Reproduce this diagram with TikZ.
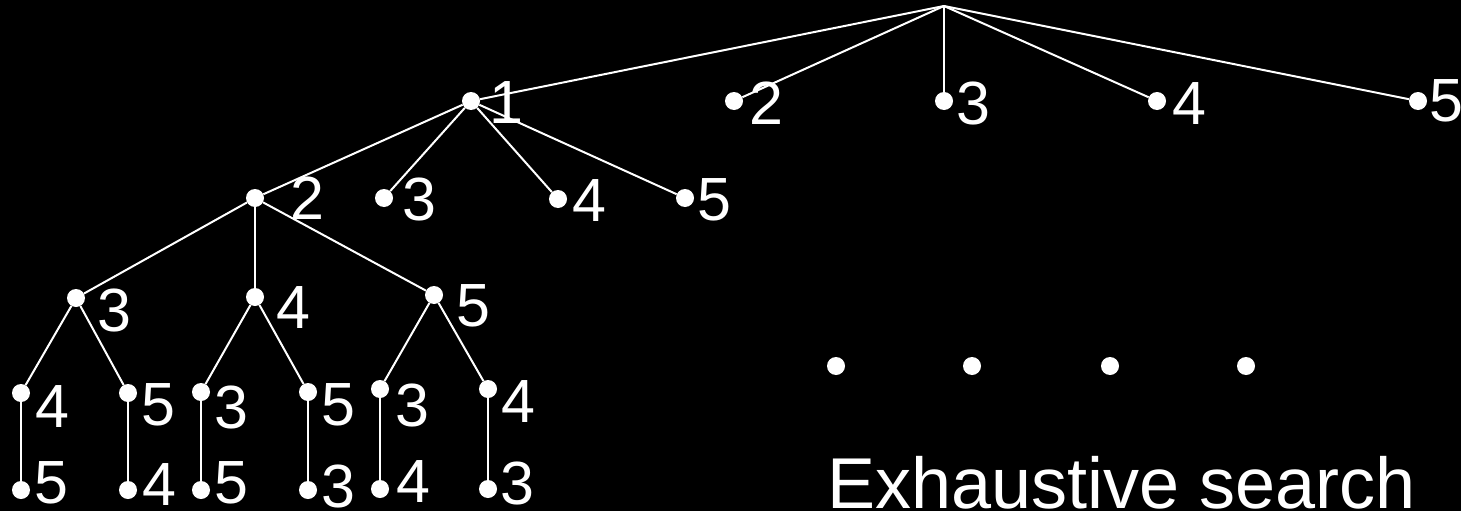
\documentclass[tikz,border=0pt]{standalone}
\usepackage{fontspec}
\setmainfont{Liberation Sans}
\begin{document}
\begin{tikzpicture}[x=1pt,y=-1pt,
  dot/.style={circle,fill=white,draw=none,inner sep=0pt,minimum size=18pt},
  lab/.style={anchor=west,inner sep=0pt,text=white,font=\fontsize{61}{70}\selectfont},
  edge/.style={draw=white,line width=2pt}]
\fill[black] (0,0) rectangle (1461,511);
\useasboundingbox (0,0) rectangle (1461,511);
% root
\coordinate (R) at (944,6);
% level 1
\node[dot] (a1) at (471,101) {};
\node[dot] (a2) at (734,101) {};
\node[dot] (a3) at (944,101) {};
\node[dot] (a4) at (1157,101) {};
\node[dot] (a5) at (1418,101) {};
% level 2
\node[dot] (b2) at (255,198) {};
\node[dot] (b3) at (384,198) {};
\node[dot] (b4) at (558,199) {};
\node[dot] (b5) at (685,198) {};
% level 3
\node[dot] (c3) at (76,298) {};
\node[dot] (c4) at (255,297) {};
\node[dot] (c5) at (434,295) {};
% level 4
\node[dot] (d1) at (21,393) {};
\node[dot] (d2) at (128,393) {};
\node[dot] (d3) at (201,392) {};
\node[dot] (d4) at (308,392) {};
\node[dot] (d5) at (380,389) {};
\node[dot] (d6) at (488,389) {};
% level 5
\node[dot] (e1) at (21,490) {};
\node[dot] (e2) at (128,490) {};
\node[dot] (e3) at (201,490) {};
\node[dot] (e4) at (308,490) {};
\node[dot] (e5) at (380,489) {};
\node[dot] (e6) at (488,489) {};
% edges
\foreach \n in {a1,a2,a3,a4,a5} \draw[edge] (R) -- (\n);
\foreach \n in {b2,b3,b4,b5} \draw[edge] (a1) -- (\n);
\foreach \n in {c3,c4,c5} \draw[edge] (b2) -- (\n);
\draw[edge] (c3) -- (d1);
\draw[edge] (c3) -- (d2);
\draw[edge] (c4) -- (d3);
\draw[edge] (c4) -- (d4);
\draw[edge] (c5) -- (d5);
\draw[edge] (c5) -- (d6);
\draw[edge] (d1) -- (e1);
\draw[edge] (d2) -- (e2);
\draw[edge] (d3) -- (e3);
\draw[edge] (d4) -- (e4);
\draw[edge] (d5) -- (e5);
\draw[edge] (d6) -- (e6);
% labels
\node[lab] (la1) at (489,103) {1};
\node[lab] (la2) at (749,103.5) {2};
\node[lab] (la3) at (956,104) {3};
\node[lab] (la4) at (1172,103.5) {4};
\node[lab] (la5) at (1429,101) {5};
\node[lab] (lb2) at (290,198.5) {2};
\node[lab] (lb3) at (402,199.5) {3};
\node[lab] (lb4) at (572,200.5) {4};
\node[lab] (lb5) at (697,199.5) {5};
\node[lab] (lc3) at (97,310) {3};
\node[lab] (lc4) at (276,308) {4};
\node[lab] (lc5) at (456,306) {5};
\node[lab] (ld1) at (35,407) {4};
\node[lab] (ld2) at (141,405) {5};
\node[lab] (ld3) at (214,407) {3};
\node[lab] (ld4) at (321,405) {5};
\node[lab] (ld5) at (395,405.5) {3};
\node[lab] (ld6) at (501,402) {4};
\node[lab] (le1) at (34,483) {5};
\node[lab] (le2) at (142,485) {4};
\node[lab] (le3) at (214,483) {5};
\node[lab] (le4) at (321,486) {3};
\node[lab] (le5) at (396,482) {4};
\node[lab] (le6) at (500,483) {3};
% ellipsis dots
\node[dot] (m1) at (836,366) {};
\node[dot] (m2) at (972,366) {};
\node[dot] (m3) at (1110,366) {};
\node[dot] (m4) at (1246,366) {};
% caption
\node[anchor=base west,inner sep=0pt,text=white,font=\fontsize{72}{80}\selectfont] (cap) at (827,508) {Exhaustive search};
\end{tikzpicture}
\end{document}
